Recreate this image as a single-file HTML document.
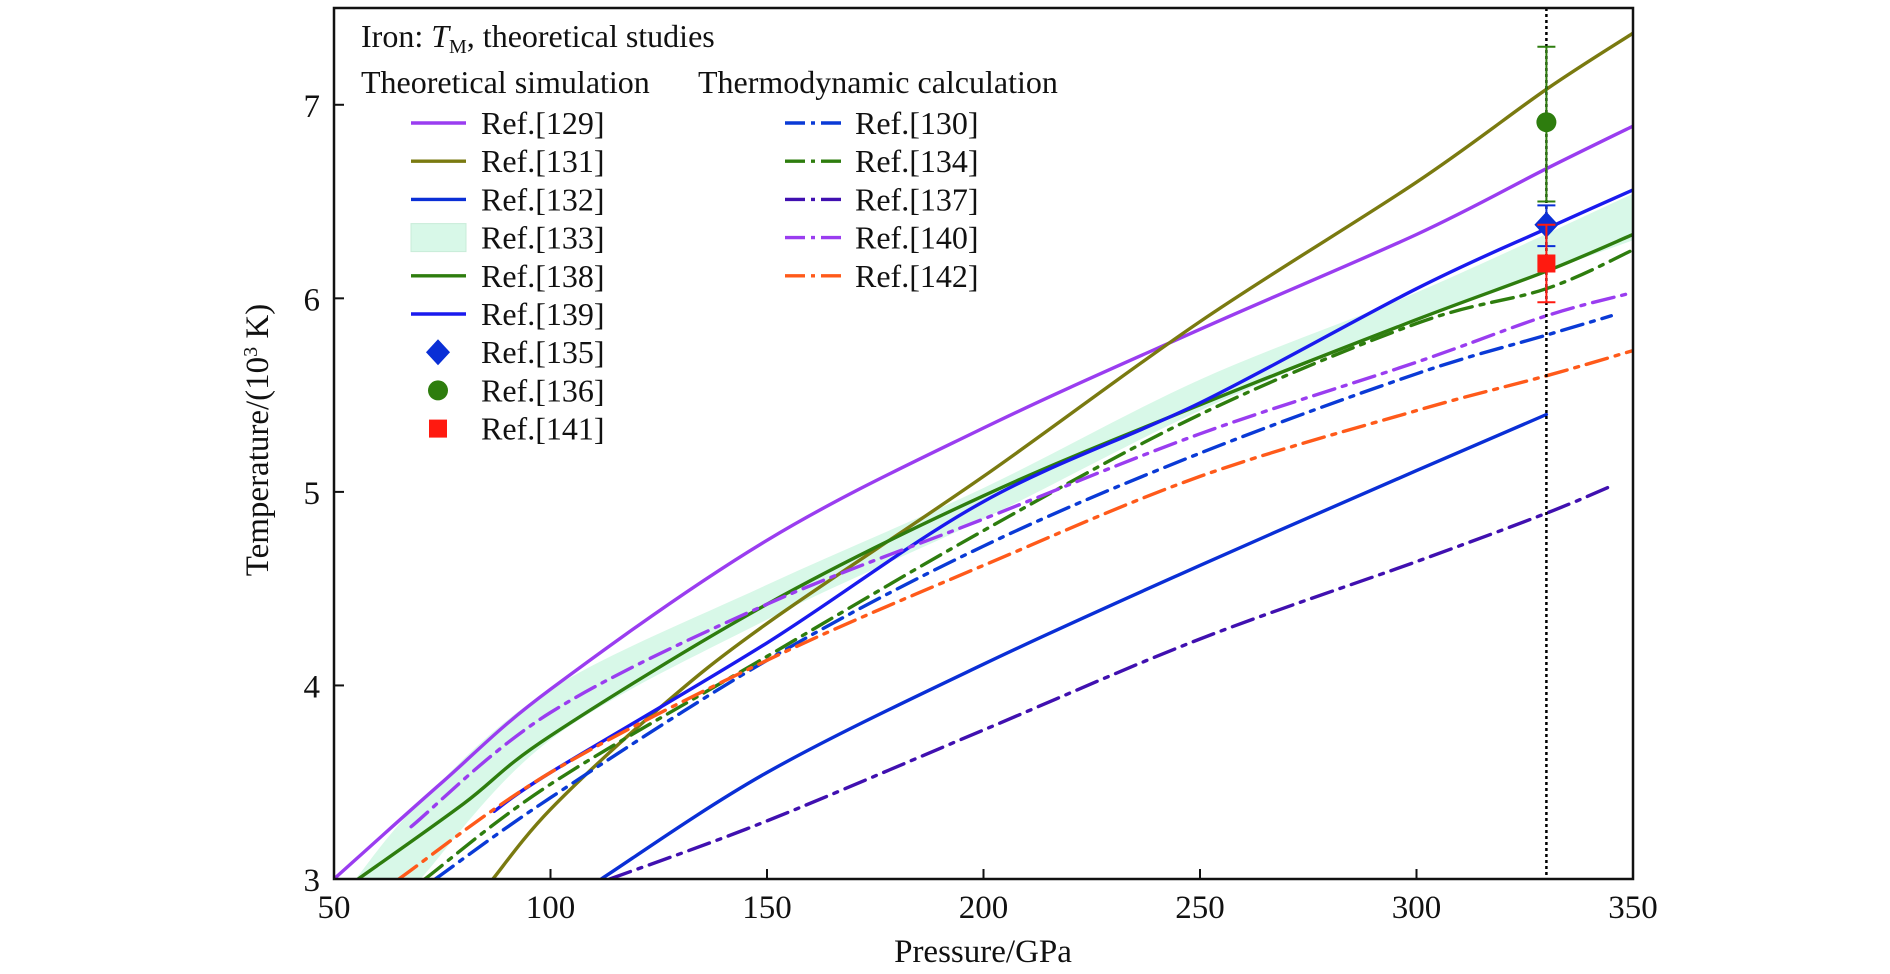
<!DOCTYPE html>
<html><head><meta charset="utf-8"><style>
html,body{margin:0;padding:0;background:#fff}
svg{display:block;font-family:"Liberation Serif",serif}
</style></head><body>
<svg id="chart" width="1890" height="974" viewBox="0 0 1890 974">
<g id="plot"></g>
</svg>
<script>
const xTicks=[50,100,150,200,250,300,350];
const yTicks=[3,4,5,6,7];
// series [pressure, temperature(10^3 K)]
const ref129=[[50,3.0],[75,3.5],[100,3.98],[150,4.75],[200,5.33],[250,5.84],[300,6.33],[330,6.67],[350,6.89]];
const ref131=[[86.7,3.0],[100,3.36],[125,3.88],[150,4.32],[200,5.08],[250,5.88],[300,6.6],[330,7.08],[350,7.37]];
const ref132=[[111.7,3.0],[150,3.55],[200,4.11],[250,4.62],[300,5.11],[330,5.40]];
const ref133Upper=[[55,3.0],[70,3.4],[100,3.98],[150,4.52],[200,5.02],[250,5.58],[300,6.03],[350,6.54]];
const ref133Lower=[[70,3.0],[100,3.72],[150,4.34],[200,4.86],[250,5.42],[300,5.89],[350,6.30]];
const ref138=[[55.6,3.0],[80,3.39],[100,3.74],[150,4.42],[200,4.98],[250,5.45],[300,5.89],[330,6.14],[350,6.33]];
const ref139=[[87,3.35],[100,3.55],[150,4.22],[200,4.95],[250,5.46],[300,6.05],[330,6.36],[350,6.56]];
const ref130=[[73.4,3.0],[100,3.42],[150,4.13],[200,4.72],[250,5.2],[300,5.61],[330,5.81],[345,5.91]];
const ref134=[[71,3.0],[100,3.49],[150,4.15],[200,4.80],[250,5.40],[300,5.87],[330,6.05],[350,6.25]];
const ref137=[[113.7,3.0],[150,3.3],[200,3.77],[250,4.24],[300,4.64],[330,4.89],[345,5.03]];
const ref140=[[67.8,3.27],[100,3.86],[150,4.42],[200,4.86],[250,5.3],[300,5.67],[330,5.91],[350,6.03]];
const ref142=[[65,3.0],[100,3.55],[150,4.13],[200,4.62],[250,5.08],[300,5.42],[330,5.6],[350,5.73]];
const points=[{p:330,t:6.38,lo:6.27,hi:6.48,shape:'diamond',c:'#0a2fd6',n:'ref135-point'},
{p:330,t:6.91,lo:6.5,hi:7.3,shape:'circle',c:'#2e7d0e',n:'ref136-point'},
{p:330,t:6.18,lo:5.98,hi:6.38,shape:'square',c:'#ff1a10',n:'ref141-point'}];

const L=334,R=1633,T=8,B=879;
const xs=p=>L+(p-50)/300*(R-L);
const ys=t=>B-(t-3)/4.5*(B-T);
const NS='http://www.w3.org/2000/svg';
const svg=document.getElementById('chart');
const plot=document.getElementById('plot');
function mk(tag,attrs,parent){const e=document.createElementNS(NS,tag);for(const k in attrs)e.setAttribute(k,attrs[k]);(parent||svg).appendChild(e);return e;}
function pathOf(d,cont){const P=d.map(q=>[xs(q[0]),ys(q[1])]);let s=(cont?'L':'M')+P[0][0].toFixed(1)+','+P[0][1].toFixed(1);
for(let i=0;i<P.length-1;i++){const p0=P[i-1]||P[i],p1=P[i],p2=P[i+1],p3=P[i+2]||p2;
const c1=[p1[0]+(p2[0]-p0[0])/6,p1[1]+(p2[1]-p0[1])/6],c2=[p2[0]-(p3[0]-p1[0])/6,p2[1]-(p3[1]-p1[1])/6];
s+='C'+c1.map(v=>v.toFixed(1)).join(',')+' '+c2.map(v=>v.toFixed(1)).join(',')+' '+p2[0].toFixed(1)+','+p2[1].toFixed(1);}
return s;}

const clip=mk('clipPath',{id:'pc'});mk('rect',{x:L,y:T,width:R-L,height:B-T},clip);
plot.setAttribute('clip-path','url(#pc)');

let band=mk('path',{d:pathOf(ref133Upper)+pathOf(ref133Lower.slice().reverse(),true)+'Z',fill:'#d8f8e8',stroke:'none'},plot);



const DD='22 8 4 8';
const series=[
[ref129,'#9a3df0',null,'ref129-line'],[ref131,'#7a7a10',null,'ref131-line'],[ref132,'#0a2fd6',null,'ref132-line'],
[ref138,'#2e7d0e',null,'ref138-line'],[ref139,'#1a1aee',null,'ref139-line'],
[ref130,'#0a3ad6',DD,'ref130-line'],[ref134,'#2e7d0e',DD,'ref134-line'],[ref137,'#4010b0',DD,'ref137-line'],
[ref140,'#9a3df0',DD,'ref140-line'],[ref142,'#ff5a1a',DD,'ref142-line']];
series.forEach(s=>{const a={d:pathOf(s[0]),fill:'none',stroke:s[1],'stroke-width':3.4,'stroke-linecap':'round','stroke-linejoin':'round'};if(s[2])a['stroke-dasharray']=s[2];
const e=mk('path',a,plot);

});

let vl=mk('line',{x1:xs(330),x2:xs(330),y1:T,y2:B,stroke:'#000','stroke-width':2.5,'stroke-dasharray':'3 3'});



points.forEach(pt=>{const x=xs(pt.p),y=ys(pt.t);
const g=mk('g',{});


mk('line',{x1:x,x2:x,y1:ys(pt.lo),y2:ys(pt.hi),stroke:pt.c,'stroke-width':2},g);
mk('line',{x1:x-9,x2:x+9,y1:ys(pt.lo),y2:ys(pt.lo),stroke:pt.c,'stroke-width':2},g);
mk('line',{x1:x-9,x2:x+9,y1:ys(pt.hi),y2:ys(pt.hi),stroke:pt.c,'stroke-width':2},g);
if(pt.shape==='circle')mk('circle',{cx:x,cy:y,r:10,fill:pt.c},g);
else if(pt.shape==='square')mk('rect',{x:x-9,y:y-9,width:18,height:18,fill:pt.c},g);
else mk('polygon',{points:`${x},${y-13} ${x+12},${y} ${x},${y+13} ${x-12},${y}`,fill:pt.c},g);});

let fr=mk('rect',{x:L,y:T,width:R-L,height:B-T,fill:'none',stroke:'#111','stroke-width':2.5});


xTicks.forEach(v=>{mk('line',{x1:xs(v),x2:xs(v),y1:B,y2:B-10,stroke:'#111','stroke-width':2});
const t=mk('text',{x:xs(v),y:918,'font-size':33,'text-anchor':'middle',fill:'#111'});t.textContent=v;

});
yTicks.forEach(v=>{mk('line',{x1:L,x2:L+10,y1:ys(v),y2:ys(v),stroke:'#111','stroke-width':2});
const t=mk('text',{x:320,y:ys(v)+12,'font-size':33,'text-anchor':'end',fill:'#111'});t.textContent=v;

});

const leg=mk('g',{'font-size':32,fill:'#111'});


function txt(x,y,s,n){const t=mk('text',{x:x,y:y},leg);t.innerHTML=s;return t;}
txt(361,47,'Iron: <tspan font-style="italic">T</tspan><tspan font-size="20" dy="6">M</tspan><tspan dy="-6">, theoretical studies</tspan>','legend-title');
txt(361,93,'Theoretical simulation','legend-group-simulation');
txt(698,93,'Thermodynamic calculation','legend-group-thermodynamic');
const col1=[['line','#9a3df0','Ref.[129]'],['line','#7a7a10','Ref.[131]'],['line','#0a2fd6','Ref.[132]'],['band','#d8f8e8','Ref.[133]'],['line','#2e7d0e','Ref.[138]'],['line','#1a1aee','Ref.[139]'],['diamond','#0a2fd6','Ref.[135]'],['circle','#2e7d0e','Ref.[136]'],['square','#ff1a10','Ref.[141]']];
const col2=[['#0a3ad6','Ref.[130]'],['#2e7d0e','Ref.[134]'],['#4010b0','Ref.[137]'],['#9a3df0','Ref.[140]'],['#ff5a1a','Ref.[142]']];
col1.forEach((e,i)=>{const y=123+i*38.2;const cx=438;
if(e[0]==='line')mk('line',{x1:411,x2:466,y1:y,y2:y,stroke:e[1],'stroke-width':3.4},leg);
else if(e[0]==='band')mk('rect',{x:411,y:y-14,width:55,height:28,fill:e[1],stroke:'#c8ecd8'},leg);
else if(e[0]==='circle')mk('circle',{cx:cx,cy:y,r:10,fill:e[1]},leg);
else if(e[0]==='square')mk('rect',{x:cx-9,y:y-9,width:18,height:18,fill:e[1]},leg);
else mk('polygon',{points:`${cx},${y-13} ${cx+12},${y} ${cx},${y+13} ${cx-12},${y}`,fill:e[1]},leg);
txt(481,y+11,e[2],'legend-entry');});
col2.forEach((e,i)=>{const y=123+i*38.2;
mk('line',{x1:785,x2:845,y1:y,y2:y,stroke:e[0],'stroke-width':3.4,'stroke-dasharray':'20 6 4 6'},leg);
txt(855,y+11,e[1],'legend-entry');});

let xt=mk('text',{x:983,y:962,'font-size':33,'text-anchor':'middle',fill:'#111'});xt.textContent='Pressure/GPa';


let yt=mk('text',{x:0,y:0,'font-size':33,'text-anchor':'middle',fill:'#111',transform:'translate(268,440) rotate(-90)'});
yt.innerHTML='Temperature/(10<tspan font-size="20" dy="-11">3</tspan><tspan dy="11"> K)</tspan>';


</script>
</body></html>
